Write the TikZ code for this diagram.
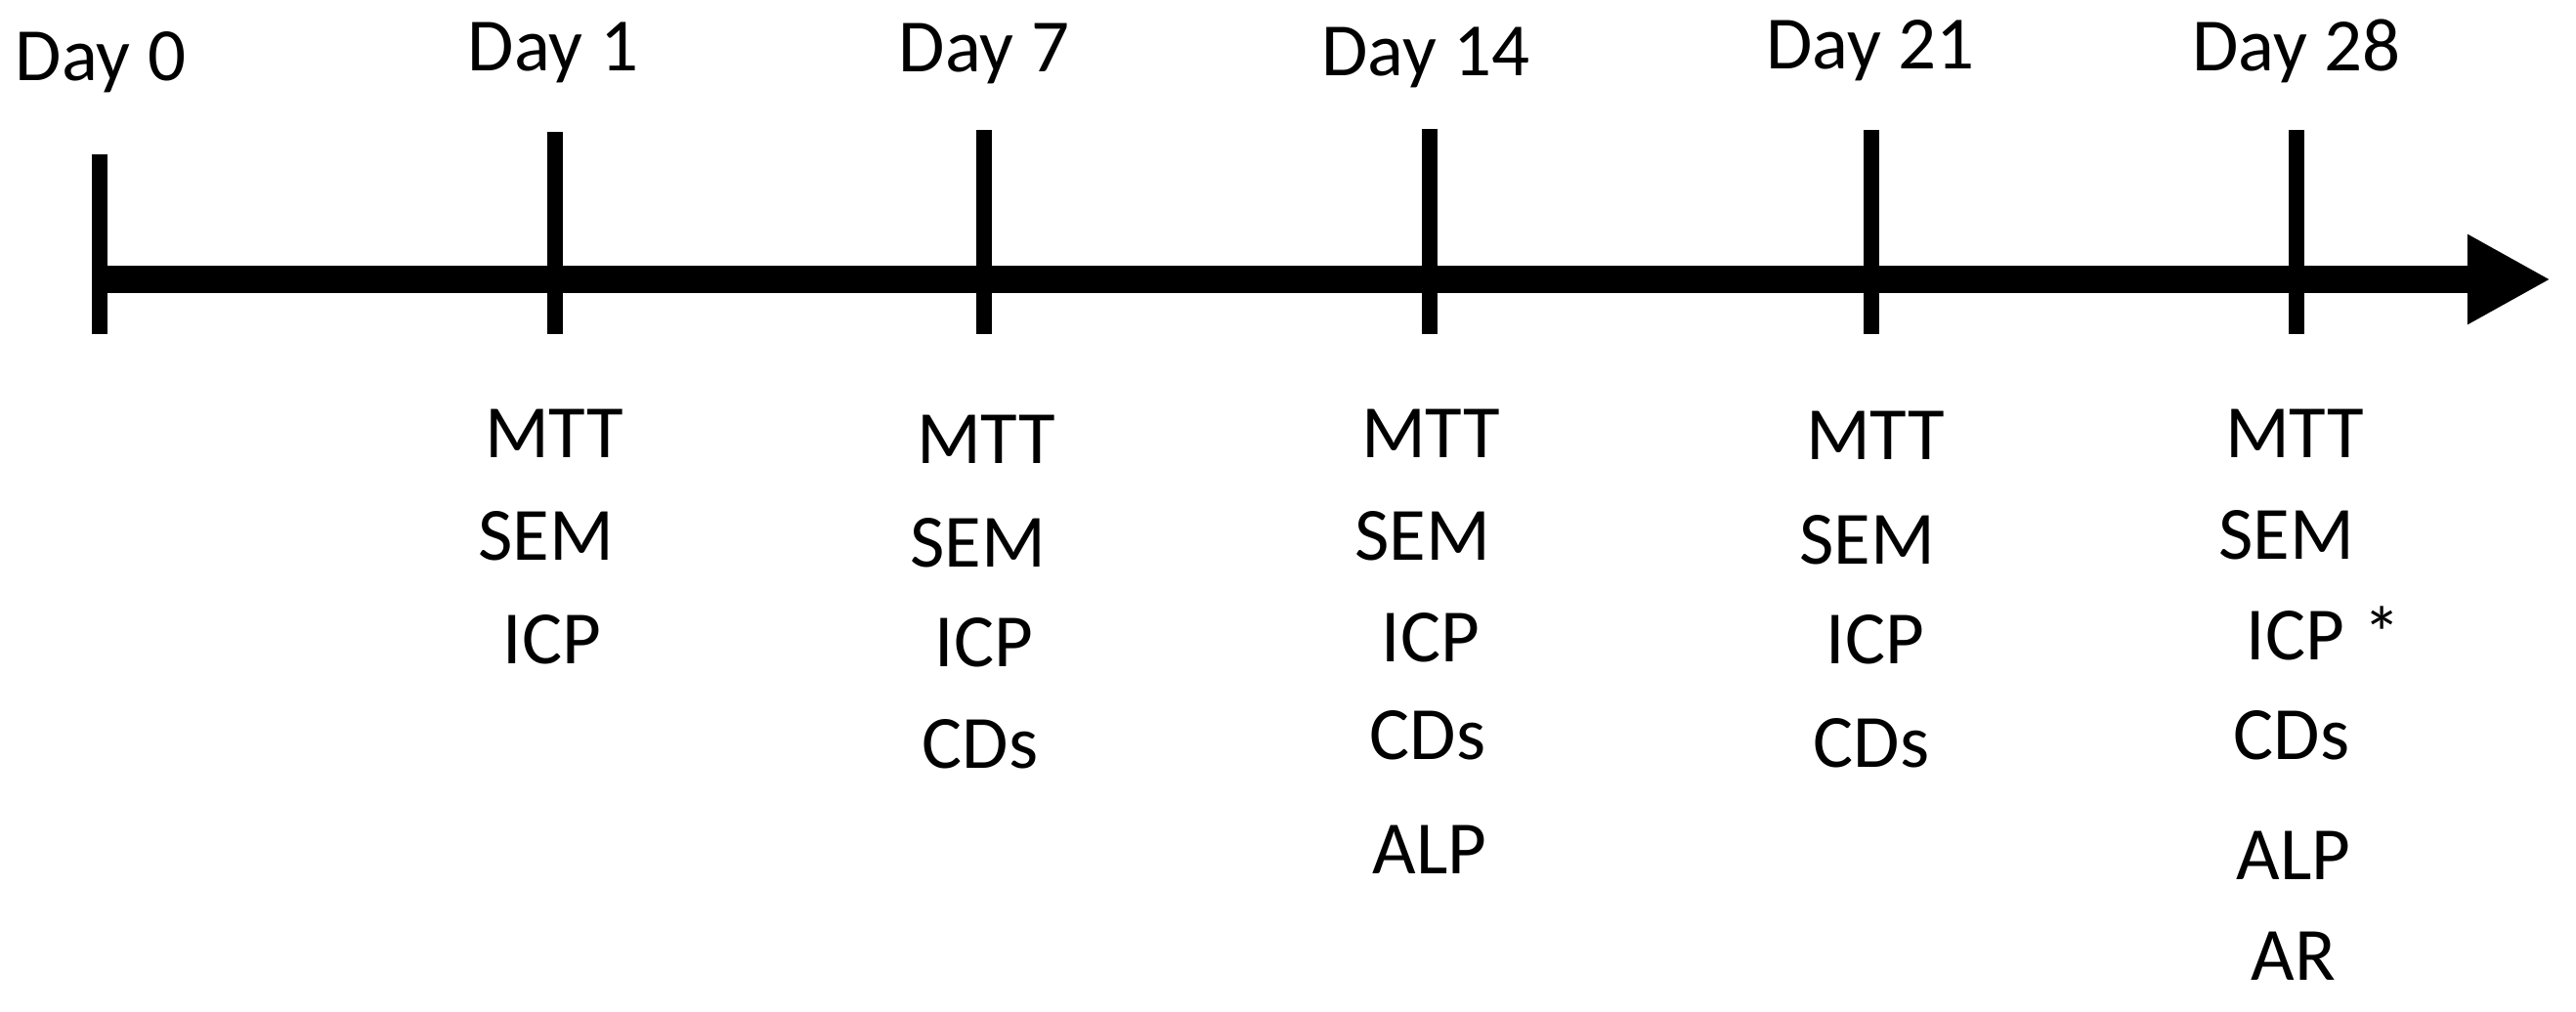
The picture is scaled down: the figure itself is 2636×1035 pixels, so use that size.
\documentclass[tikz,border=0pt]{standalone}
\usepackage{fontspec}
\setmainfont{Carlito}
\usetikzlibrary{arrows.meta}

\begin{document}
\begin{tikzpicture}[
  x=0.01cm,y=-0.01cm,
  font=\fontsize{21.9pt}{26pt}\selectfont,
  day/.style={anchor=base,inner sep=0pt},
  assay/.style={anchor=base,inner sep=0pt},
  daytick/.style={line width=4.6pt,draw=black},
  axis/.style={line width=8pt,draw=black,-{Triangle[length=0.85cm,width=0.86cm]}}]
  \useasboundingbox (0,0) rectangle (2636,1035);
  % time axis
  \coordinate (start) at (102,286);
  \coordinate (tip) at (2610,286);
  \draw[axis] (start) -- (tip);
  \foreach \x/\top in {102/158,568/135,1007/133,1463/132,1915/133,2350/133}
    \draw[daytick] (\x,\top) -- (\x,342);
  % days
  \node[day] (day0) at (103,82) {Day 0};
  \node[day] (day1) at (566,72) {Day 1};
  \node[day] (day7) at (1007,73) {Day 7};
  \node[day] (day14) at (1459,77) {Day 14};
  \node[day] (day21) at (1914,70) {Day 21};
  \node[day] (day28) at (2350,72) {Day 28};
  % assays per day
  \node[assay] (mtt1) at (567,468) {MTT};
  \node[assay] (sem1) at (559,573) {SEM};
  \node[assay] (icp1) at (565,679) {ICP};
  \node[assay] (mtt7) at (1009,474) {MTT};
  \node[assay] (sem7) at (1001,580) {SEM};
  \node[assay] (icp7) at (1007,682) {ICP};
  \node[assay] (cds7) at (1003,786) {CDs};
  \node[assay] (mtt14) at (1464,468) {MTT};
  \node[assay] (sem14) at (1456,573) {SEM};
  \node[assay] (icp14) at (1464,677) {ICP};
  \node[assay] (cds14) at (1461,777) {CDs};
  \node[assay] (alp14) at (1463,894) {ALP};
  \node[assay] (mtt21) at (1919,470) {MTT};
  \node[assay] (sem21) at (1911,577) {SEM};
  \node[assay] (icp21) at (1919,679) {ICP};
  \node[assay] (cds21) at (1915,785) {CDs};
  \node[assay] (mtt28) at (2348,468) {MTT};
  \node[assay] (sem28) at (2340,572) {SEM};
  \node[assay] (icp28) at (2349,675) {ICP};
  \node[assay] (star28) at (2438,675) {*};
  \node[assay] (cds28) at (2345,777) {CDs};
  \node[assay] (alp28) at (2347,900) {ALP};
  \node[assay] (ar28) at (2347,1003) {AR};
\end{tikzpicture}
\end{document}
